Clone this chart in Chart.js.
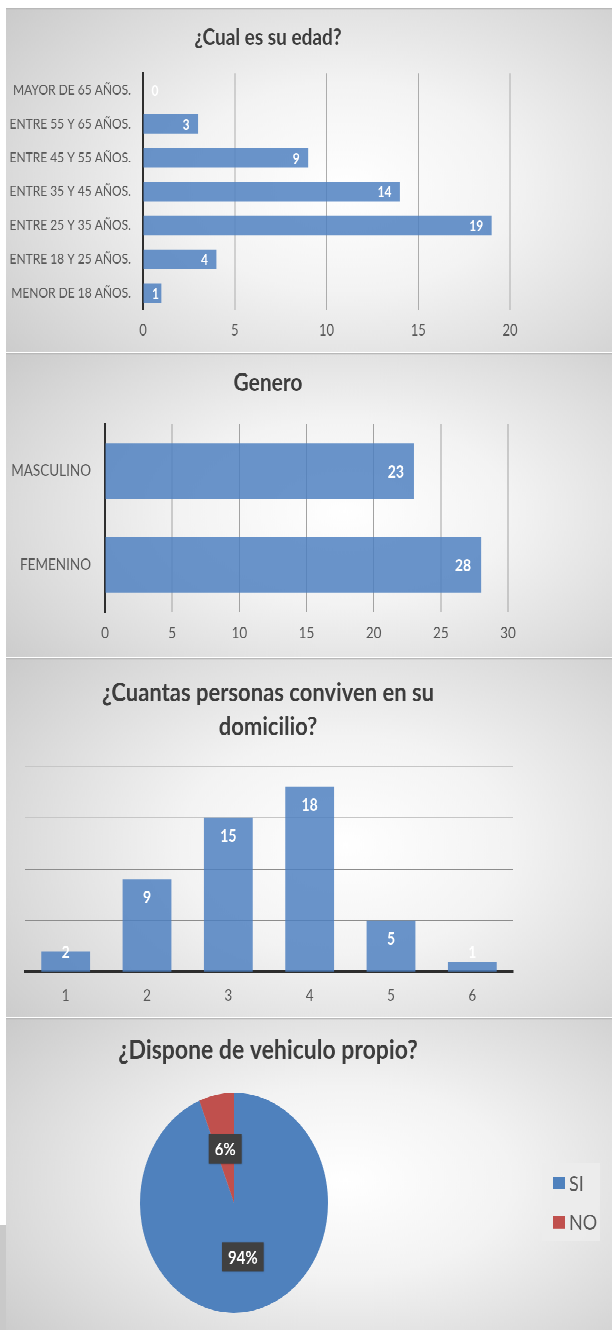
<!DOCTYPE html>
<html lang="es">
<head>
<meta charset="utf-8">
<title>Encuesta</title>
<script src="https://cdn.jsdelivr.net/npm/chart.js@4.4.1/dist/chart.umd.min.js"></script>
<style>
  html, body { margin: 0; padding: 0; background: #fff; }
  body { width: 612px; height: 1330px; position: relative; overflow: hidden; }
  /* the source screenshot is stretched vertically, so every panel is drawn flat and scaled */
  .panel {
    position: absolute; left: 6px; width: 606px;
    transform-origin: 0 0; transform: scaleY(1.17);
    background: radial-gradient(ellipse 72% 80% at 56% 52%, #ffffff 0%, #f3f3f3 38%, #dbdbdb 76%, #cbcbcb 100%);
    box-shadow: inset 0 1px 0 #b8b8b8;
  }
  .panel canvas { display: block; }
  .stub { position: absolute; left: 0; top: 1225px; width: 6px; height: 105px; background: #c9c9c9; }
</style>
</head>
<body>
  <div class="panel" style="top:8px;height:294px"><canvas id="ageChart" width="606" height="294"></canvas></div>
  <div class="panel" style="top:353px;height:260px"><canvas id="genderChart" width="606" height="260"></canvas></div>
  <div class="panel" style="top:658px;height:307px"><canvas id="homeChart" width="606" height="307"></canvas></div>
  <div class="panel" style="top:1018px;height:267px"><canvas id="carChart" width="606" height="267"></canvas></div>
  <div class="stub"></div>

<script>
// ---- data ----
const ageLabels = [
  "MAYOR DE 65 AÑOS.",
  "ENTRE 55 Y 65 AÑOS.",
  "ENTRE 45 Y 55 AÑOS.",
  "ENTRE 35 Y 45 AÑOS.",
  "ENTRE 25 Y 35 AÑOS.",
  "ENTRE 18 Y 25 AÑOS.",
  "MENOR DE 18 AÑOS.",
];
const ageCounts = [0, 3, 9, 14, 19, 4, 1];
const ageMax = 20;

const genderLabels = ["MASCULINO", "FEMENINO"];
const genderCounts = [23, 28];
const genderMax = 30;

const homeLabels = ["1", "2", "3", "4", "5", "6"];
const homeCounts = [2, 9, 15, 18, 5, 1];
const homeMax = 20;

const carLabels = ["SI", "NO"];
const carCounts = [47, 3];

const tickStep = 5;

const titles = {
  age: ["¿Cual es su edad?"],
  gender: ["Genero"],
  home: ["¿Cuantas personas conviven en su", "domicilio?"],
  car: ["¿Dispone de vehiculo propio?"],
};

// ---- look ----
const FONT = "Lato, 'Open Sans', sans-serif";
const TITLE_COLOR = "#3d3d3d";
const LABEL_COLOR = "#595959";
const BAR_FILL = "rgba(78,128,192,0.84)";
const PIE_FILL = ["#4f81bd", "#c0504d"];
const AXIS_DARK = "#2e2e2e";
const TITLE_X = 262;

Chart.defaults.font.family = FONT;

function el(id) {
  return document.getElementById(id);
}

function titleBlock(lines, ys, size) {
  return {
    id: "titleBlock",
    afterDraw(chart) {
      const { ctx } = chart;
      ctx.save();
      ctx.font = `bold ${size}px ${FONT}`;
      ctx.fillStyle = TITLE_COLOR;
      ctx.textAlign = "center";
      ctx.textBaseline = "middle";
      lines.forEach((line, i) => ctx.fillText(line, TITLE_X, ys[i]));
      ctx.restore();
    },
  };
}

// white value labels, "inside end" like the office chart
function barValues(size, pad) {
  return {
    id: "barValues",
    afterDatasetsDraw(chart) {
      const { ctx } = chart;
      const horizontal = chart.options.indexAxis === "y";
      const values = chart.data.datasets[0].data;
      ctx.save();
      ctx.font = `bold ${size}px ${FONT}`;
      ctx.fillStyle = "#ffffff";
      ctx.textAlign = "center";
      ctx.textBaseline = "middle";
      chart.getDatasetMeta(0).data.forEach((bar, i) => {
        const text = String(values[i]);
        const w = ctx.measureText(text).width;
        if (horizontal) {
          const x = Math.max(bar.x - pad - w / 2, bar.base + pad + w / 2);
          ctx.fillText(text, x, bar.y + 1);
        } else {
          const y = Math.min(bar.y + pad + size / 2, bar.base - pad - size / 2);
          ctx.fillText(text, bar.x, y);
        }
      });
      ctx.restore();
    },
  };
}

function pieValues(size) {
  return {
    id: "pieValues",
    afterDatasetsDraw(chart) {
      const { ctx } = chart;
      const values = chart.data.datasets[0].data;
      const total = values.reduce((a, b) => a + b, 0);
      ctx.save();
      ctx.font = `bold ${size}px ${FONT}`;
      ctx.textAlign = "center";
      ctx.textBaseline = "middle";
      chart.getDatasetMeta(0).data.forEach((arc, i) => {
        const { x, y } = arc.tooltipPosition();
        const text = Math.round((values[i] / total) * 100) + "%";
        const w = ctx.measureText(text).width + 12;
        const h = 25;
        ctx.shadowColor = "rgba(0,0,0,0.35)";
        ctx.shadowBlur = 3;
        ctx.shadowOffsetX = 1;
        ctx.shadowOffsetY = 1;
        ctx.fillStyle = "#404040";
        ctx.fillRect(x - w / 2, y - h / 2, w, h);
        ctx.shadowColor = "transparent";
        ctx.fillStyle = "#ffffff";
        ctx.fillText(text, x, y + 1);
      });
      ctx.restore();
    },
  };
}

function legendBlock(rowsY) {
  return {
    id: "legendBlock",
    afterDraw(chart) {
      const { ctx } = chart;
      const fills = chart.data.datasets[0].backgroundColor;
      ctx.save();
      ctx.fillStyle = "rgba(236,236,236,0.85)";
      ctx.fillRect(536, 124, 58, 67);
      ctx.font = `18px ${FONT}`;
      ctx.textAlign = "left";
      ctx.textBaseline = "middle";
      chart.data.labels.forEach((label, i) => {
        const cy = rowsY[i];
        ctx.fillStyle = fills[i];
        ctx.fillRect(547, cy - 5, 12, 10.5);
        ctx.fillStyle = LABEL_COLOR;
        ctx.fillText(label, 563, cy + 1);
      });
      ctx.restore();
    },
  };
}

const common = {
  responsive: false,
  animation: false,
  devicePixelRatio: 2,
};
const quiet = { legend: { display: false }, tooltip: { enabled: false } };

// ---- 1. edad ----
new Chart(el("ageChart"), {
  type: "bar",
  data: {
    labels: ageLabels,
    datasets: [{ data: ageCounts, backgroundColor: BAR_FILL, borderWidth: 0, categoryPercentage: 1, barPercentage: 0.58 }],
  },
  options: {
    ...common,
    indexAxis: "y",
    layout: { padding: { top: 55.6, right: 102, bottom: 0, left: 0 } },
    plugins: quiet,
    scales: {
      x: {
        min: 0,
        max: ageMax,
        ticks: { stepSize: tickStep, color: LABEL_COLOR, font: { size: 13 }, padding: 10 },
        grid: { color: "#acacac", drawTicks: false },
        border: { display: false },
        afterFit: (s) => { s.height = 35.9; },
      },
      y: {
        ticks: { color: LABEL_COLOR, font: { size: 12 }, padding: 12 },
        grid: { display: false, drawTicks: false },
        border: { color: AXIS_DARK, width: 2 },
        afterFit: (s) => { s.width = 137; },
      },
    },
  },
  plugins: [titleBlock(titles.age, [25.6], 19), barValues(12, 8.5)],
});

// ---- 2. genero ----
new Chart(el("genderChart"), {
  type: "bar",
  data: {
    labels: genderLabels,
    datasets: [{ data: genderCounts, backgroundColor: BAR_FILL, borderWidth: 0, categoryPercentage: 1, barPercentage: 0.59 }],
  },
  options: {
    ...common,
    indexAxis: "y",
    layout: { padding: { top: 60.7, right: 104, bottom: 0, left: 0 } },
    plugins: quiet,
    scales: {
      x: {
        min: 0,
        max: genderMax,
        ticks: { stepSize: tickStep, color: LABEL_COLOR, font: { size: 13.5 }, padding: 10 },
        grid: { color: "#a2a2a2", drawTicks: false },
        border: { display: false },
        afterFit: (s) => { s.height = 38.6; },
      },
      y: {
        ticks: { color: LABEL_COLOR, font: { size: 13.5 }, padding: 14 },
        grid: { display: false, drawTicks: false },
        border: { color: AXIS_DARK, width: 2 },
        afterFit: (s) => { s.width = 99; },
      },
    },
  },
  plugins: [titleBlock(titles.gender, [25.6], 21), barValues(14, 10)],
});

// ---- 3. personas en el domicilio ----
new Chart(el("homeChart"), {
  type: "bar",
  data: {
    labels: homeLabels,
    datasets: [{ data: homeCounts, backgroundColor: BAR_FILL, borderWidth: 0, categoryPercentage: 1, barPercentage: 0.6 }],
  },
  options: {
    ...common,
    layout: { padding: { top: 92.3, right: 99, bottom: 0, left: 19 } },
    plugins: quiet,
    scales: {
      x: {
        ticks: { color: LABEL_COLOR, font: { size: 13.5 }, padding: 12 },
        grid: { display: false, drawTicks: false },
        border: { color: AXIS_DARK, width: 2.5 },
        afterFit: (s) => { s.height = 38.6; },
      },
      y: {
        min: 0,
        max: homeMax,
        ticks: { display: false, stepSize: tickStep },
        grid: {
          drawTicks: false,
          color: (c) => (c.tick && c.tick.value <= 10 ? "#8c8c8c" : "#c6c6c6"),
        },
        border: { display: false },
        afterFit: (s) => { s.width = 0; },
      },
    },
  },
  plugins: [titleBlock(titles.home, [29.9, 59], 22), barValues(14, 9)],
});

// ---- 4. vehiculo ----
new Chart(el("carChart"), {
  type: "pie",
  data: {
    labels: carLabels,
    datasets: [{ data: carCounts, backgroundColor: PIE_FILL, borderWidth: 0 }],
  },
  options: {
    ...common,
    layout: { padding: { top: 64, right: 150, bottom: 15, left: 0 } },
    plugins: quiet,
  },
  plugins: [titleBlock(titles.car, [27.4], 23), pieValues(15), legendBlock([141, 174.4])],
});
</script>
</body>
</html>
